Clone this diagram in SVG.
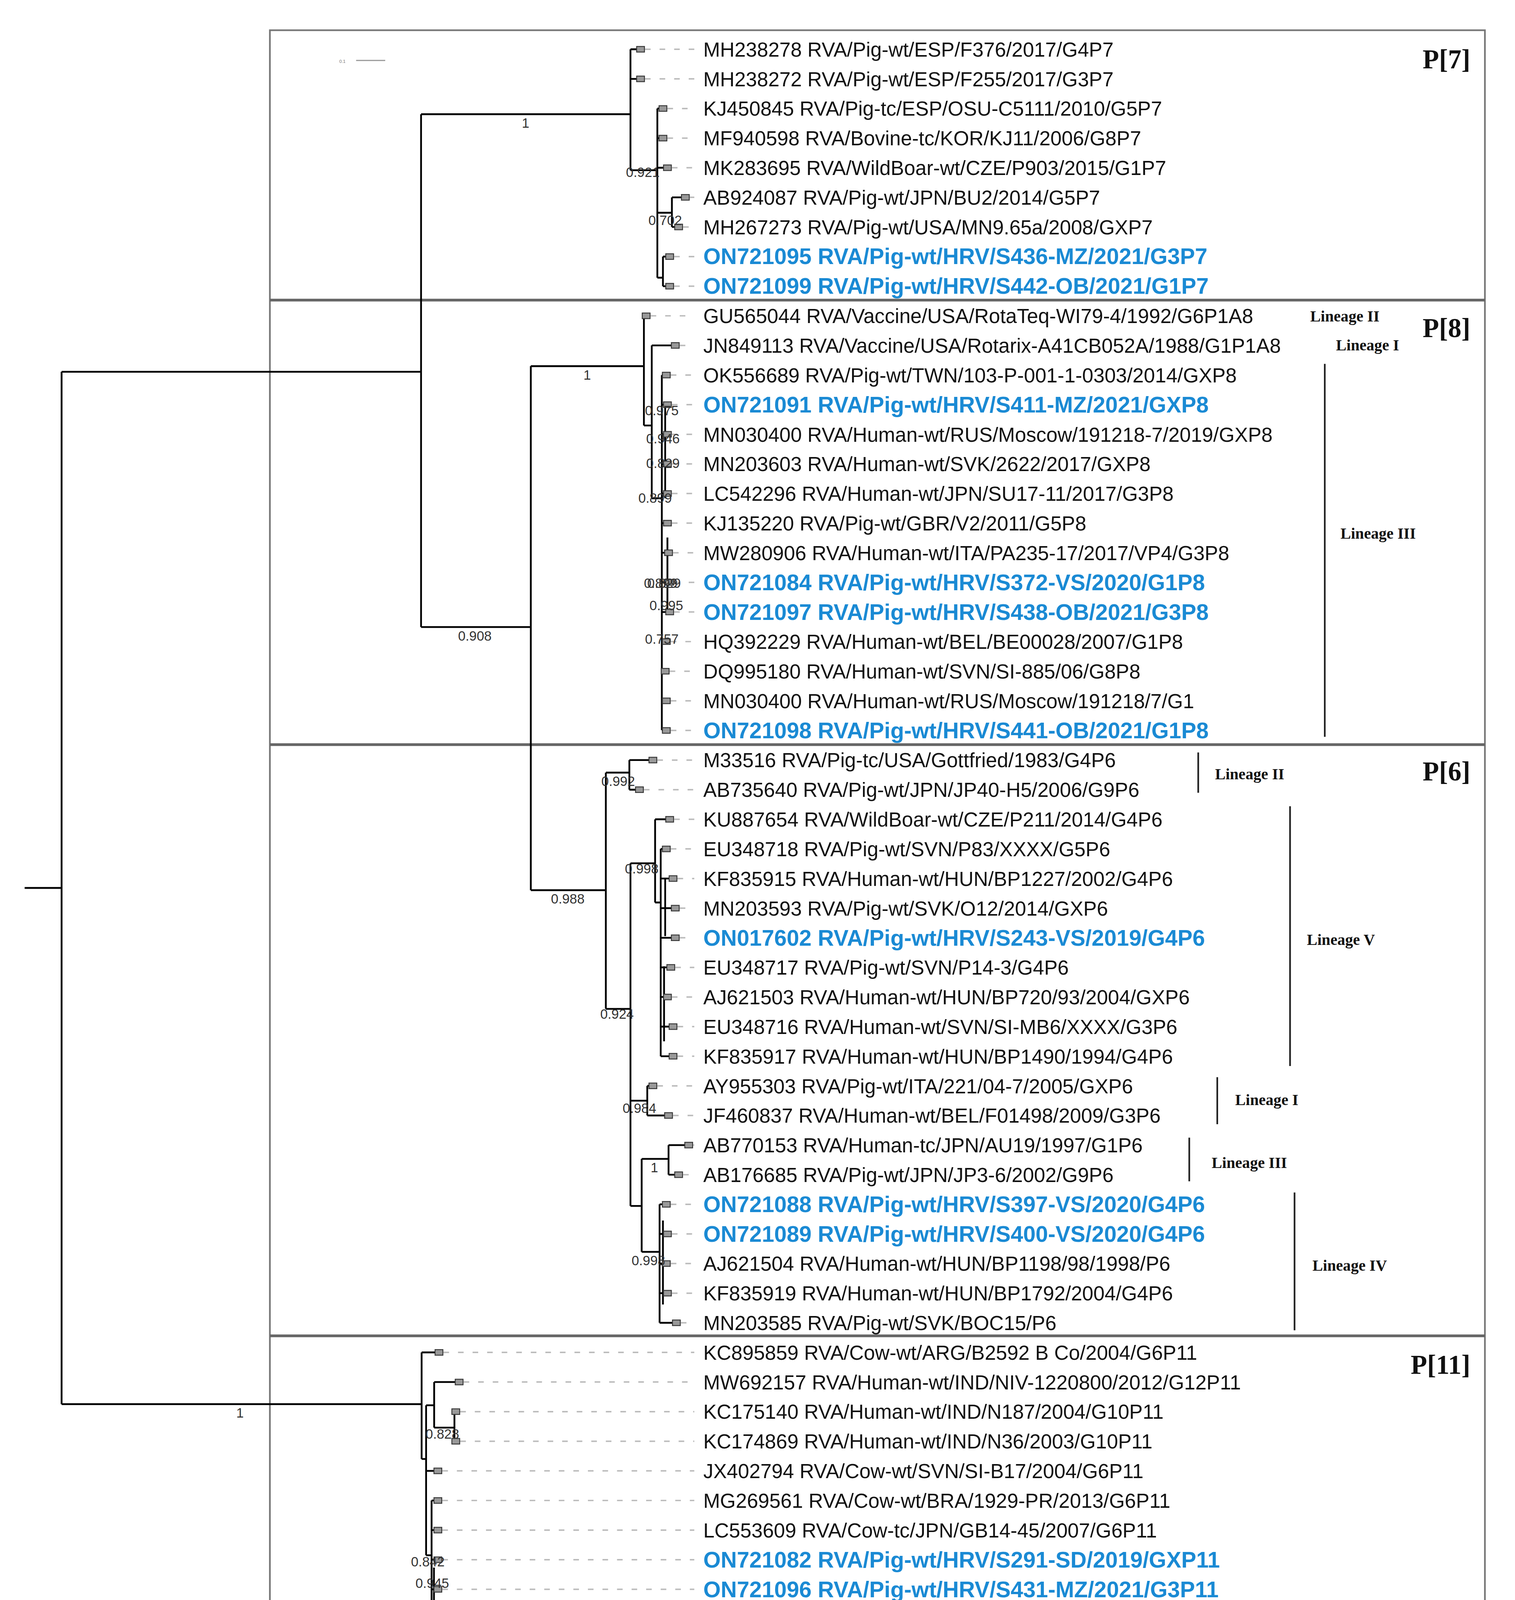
<svg xmlns="http://www.w3.org/2000/svg" width="3878" height="4497" viewBox="0 0 3878 4497">
<style>
.lf{font-family:"Liberation Sans",Arial,sans-serif;font-size:18px;fill:#111}
.bl{font-family:"Liberation Sans",Arial,sans-serif;font-size:20px;font-weight:bold;fill:#1a8ad4}
.sp{font-family:"Liberation Sans",Arial,sans-serif;font-size:12px;fill:#333}
.ln{font-family:"Liberation Serif","Times New Roman",serif;font-size:14px;font-weight:bold;fill:#111}
.gp{font-family:"Liberation Serif","Times New Roman",serif;font-size:24px;font-weight:bold;fill:#111}
.br{fill:none;stroke:#000;stroke-width:1.6}
.ds{fill:none;stroke:#bbb;stroke-width:1.3;stroke-dasharray:5 8}
.bx{fill:none;stroke:#777;stroke-width:1.5}
.sep{stroke:#666;stroke-width:2.5}
.lb{stroke:#222;stroke-width:1.5}
</style>
<defs><rect id="tip" x="-3.5" y="-2.5" width="7" height="5" fill="#999" stroke="#333" stroke-width="0.8"/></defs>
<rect width="3878" height="4497" fill="#fff"/>
<g transform="scale(2.8665)">
<g id="frames">
<rect class="bx" x="241" y="27" width="1085" height="1515"/>
<line class="sep" x1="241" y1="268" x2="1326" y2="268"/>
<line class="sep" x1="241" y1="665" x2="1326" y2="665"/>
<line class="sep" x1="241" y1="1193" x2="1326" y2="1193"/>
<text class="gp" x="1313" y="61" text-anchor="end">P[7]</text>
<text class="gp" x="1313" y="301" text-anchor="end">P[8]</text>
<text class="gp" x="1313" y="697" text-anchor="end">P[6]</text>
<text class="gp" x="1313" y="1227" text-anchor="end">P[11]</text>
<text x="50" y="1526" style="font-family:'Liberation Serif',serif;font-size:40px;font-weight:bold">A</text>
<text x="303" y="56" style="font-family:'Liberation Sans',sans-serif;font-size:4px;fill:#777">0.1</text>
<line x1="318" y1="54" x2="344" y2="54" stroke="#999" stroke-width="1"/>
</g>
<g id="connectors">
<path class="br" d="M22,793H55M55,332V1254M55,332H376M376,102V560M376,102H563M563,44V152M563,44H572M563,70.45H572M563,152H587M587,96.9V248M587,96.9H592M587,123.35H592M587,149.8H596M587,190H600M600,176.25V202.7M600,176.25H612M600,202.7H606M587,248H592M592,229.15V255.6M592,229.15H598M592,255.6H598"/>
<path class="br" d="M376,560H474M474,327V795M474,327H575M575,282V380M575,282H577M575,380H582M582,308.5V445M582,308.5H603M582,445H591M591,335V652M594,361V445M591,334.95H595M591,361.4H596M591,387.85H596M591,414.3H596M591,440.75H596M591,467.2H596M591,493.65H597M591,520.1H598M591,546.55H598M591,573H595M591,599.45H594M591,625.9H595M591,652.35H595M596,480V546"/>
<path class="br" d="M474,795H541M541,690V901M541,690H562M562,678.8V705.25M562,678.8H583M562,705.25H571M541,901H563M563,771V1077M563,771H585M585,731.7V806M585,731.7H598M585,806H590M590,758.15V943.3M590,758.15H595M590,784.6H601M590,811.05H603M590,837.5H603M590,863.95H599M590,890.4H596M590,916.85H601M590,943.3H601M594,784V836M593,863V930M563,983H578M578,969.75V996.2M578,969.75H583M578,996.2H597M563,1077H573M573,1035V1118M573,1035H597M597,1022.65V1049.1M597,1022.65H615M597,1049.1H606M573,1118H589M589,1075.55V1181.35M589,1075.55H595M589,1102H596M589,1128.45H595M589,1154.9H596M589,1181.35H604M592,1090V1165"/>
<path class="br" d="M55,1254H376.5M376.5,1207.8V1303M376.5,1207.8H392M376.5,1303H380.5M380.5,1255V1389M380.5,1255H387.7M387.7,1234.25V1275M387.7,1234.25H410M387.7,1275H405.8M405.8,1260.7V1287.15M405.8,1260.7H407M405.8,1287.15H407M380.5,1313.6H391M380.5,1389H385.4M385.4,1340.05V1525.2M385.4,1340.05H391M385.4,1366.5H391M385.4,1392.95H391M385.4,1419.4H391M385.4,1445.85H391M385.4,1472.3H391M385.4,1498.75H391M385.4,1525.2H391M387.5,1400V1430"/>
<path class="ds" d="M576,44H620M576,70.45H620M596,96.9H620M596,123.35H620M600,149.8H620M616,176.25H620M610,202.7H620M602,229.15H620M602,255.6H620M581,282.05H620M607,308.5H620M599,334.95H620M600,361.4H620M600,387.85H620M600,414.3H620M600,440.75H620M600,467.2H620M601,493.65H620M602,520.1H620M602,546.55H620M599,573H620M598,599.45H620M599,625.9H620M599,652.35H620M587,678.8H620M575,705.25H620M602,731.7H620M599,758.15H620M605,784.6H620M607,811.05H620M607,837.5H620M603,863.95H620M600,890.4H620M605,916.85H620M605,943.3H620M587,969.75H620M601,996.2H620M619,1022.65H620M610,1049.1H620M599,1075.55H620M600,1102H620M599,1128.45H620M600,1154.9H620M608,1181.35H620M396,1207.8H620M414,1234.25H620M411,1260.7H620M411,1287.15H620M395,1313.6H620M395,1340.05H620M395,1366.5H620M395,1392.95H620M395,1419.4H620M396,1445.85H620M395,1472.3H620M395,1498.75H620M395,1525.2H620"/>
<g id="lineage-bars">
<line class="lb" x1="1183" y1="325" x2="1183" y2="658"/>
<line class="lb" x1="1070" y1="672" x2="1070" y2="708"/>
<line class="lb" x1="1152" y1="720" x2="1152" y2="952"/>
<line class="lb" x1="1087" y1="962" x2="1087" y2="1004"/>
<line class="lb" x1="1062" y1="1016" x2="1062" y2="1055"/>
<line class="lb" x1="1156" y1="1065" x2="1156" y2="1188"/>
</g>
</g>
<g id="tips">
<use href="#tip" x="572" y="44"/><use href="#tip" x="572" y="70.45"/><use href="#tip" x="592" y="96.9"/><use href="#tip" x="592" y="123.35"/><use href="#tip" x="596" y="149.8"/><use href="#tip" x="612" y="176.25"/><use href="#tip" x="606" y="202.7"/><use href="#tip" x="598" y="229.15"/><use href="#tip" x="598" y="255.6"/>
<use href="#tip" x="577" y="282.05"/><use href="#tip" x="603" y="308.5"/><use href="#tip" x="595" y="334.95"/><use href="#tip" x="596" y="361.4"/><use href="#tip" x="596" y="387.85"/><use href="#tip" x="596" y="414.3"/><use href="#tip" x="596" y="440.75"/><use href="#tip" x="596" y="467.2"/><use href="#tip" x="597" y="493.65"/><use href="#tip" x="598" y="520.1"/><use href="#tip" x="598" y="546.55"/><use href="#tip" x="595" y="573"/><use href="#tip" x="594" y="599.45"/><use href="#tip" x="595" y="625.9"/><use href="#tip" x="595" y="652.35"/>
<use href="#tip" x="583" y="678.8"/><use href="#tip" x="571" y="705.25"/><use href="#tip" x="598" y="731.7"/><use href="#tip" x="595" y="758.15"/><use href="#tip" x="601" y="784.6"/><use href="#tip" x="603" y="811.05"/><use href="#tip" x="603" y="837.5"/><use href="#tip" x="599" y="863.95"/><use href="#tip" x="596" y="890.4"/><use href="#tip" x="601" y="916.85"/><use href="#tip" x="601" y="943.3"/><use href="#tip" x="583" y="969.75"/><use href="#tip" x="597" y="996.2"/><use href="#tip" x="615" y="1022.65"/><use href="#tip" x="606" y="1049.1"/><use href="#tip" x="595" y="1075.55"/><use href="#tip" x="596" y="1102"/><use href="#tip" x="595" y="1128.45"/><use href="#tip" x="596" y="1154.9"/><use href="#tip" x="604" y="1181.35"/>
<use href="#tip" x="392" y="1207.8"/><use href="#tip" x="410" y="1234.25"/><use href="#tip" x="407" y="1260.7"/><use href="#tip" x="407" y="1287.15"/><use href="#tip" x="391" y="1313.6"/><use href="#tip" x="391" y="1340.05"/><use href="#tip" x="391" y="1366.5"/><use href="#tip" x="391" y="1392.95"/><use href="#tip" x="391" y="1419.4"/><use href="#tip" x="392" y="1445.85"/><use href="#tip" x="391" y="1472.3"/><use href="#tip" x="391" y="1498.75"/><use href="#tip" x="391" y="1525.2"/>
</g>
<g id="support">
<text class="sp" x="466" y="114">1</text><text class="sp" x="559" y="158">0.921</text><text class="sp" x="579" y="201">0.702</text>
<text class="sp" x="211" y="1266">1</text><text class="sp" x="409" y="572">0.908</text><text class="sp" x="521" y="339">1</text>
<text class="sp" x="576" y="371">0.975</text><text class="sp" x="577" y="396">0.946</text><text class="sp" x="577" y="418">0.829</text><text class="sp" x="570" y="449">0.899</text><text class="sp" x="575" y="525">0.899</text><text class="sp" x="578" y="525">0.829</text><text class="sp" x="580" y="545">0.995</text><text class="sp" x="576" y="575">0.757</text>
<text class="sp" x="492" y="807">0.988</text><text class="sp" x="537" y="702">0.992</text><text class="sp" x="536" y="910">0.924</text><text class="sp" x="558" y="780">0.998</text><text class="sp" x="556" y="994">0.984</text><text class="sp" x="581" y="1047">1</text><text class="sp" x="564" y="1130">0.998</text>
<text class="sp" x="380" y="1285">0.828</text><text class="sp" x="367" y="1399">0.842</text><text class="sp" x="371" y="1418">0.945</text>
</g>
<g id="lineages">
<text class="ln" x="1170" y="287">Lineage II</text>
<text class="ln" x="1193" y="313">Lineage I</text>
<text class="ln" x="1197" y="481">Lineage III</text>
<text class="ln" x="1085" y="696">Lineage II</text>
<text class="ln" x="1167" y="844">Lineage V</text>
<text class="ln" x="1103" y="987">Lineage I</text>
<text class="ln" x="1082" y="1043">Lineage III</text>
<text class="ln" x="1172" y="1135">Lineage IV</text>
</g>
<g id="labels">
<text class="lf" x="628" y="50.5">MH238278 RVA/Pig-wt/ESP/F376/2017/G4P7</text>
<text class="lf" x="628" y="77">MH238272 RVA/Pig-wt/ESP/F255/2017/G3P7</text>
<text class="lf" x="628" y="103.4">KJ450845 RVA/Pig-tc/ESP/OSU-C5111/2010/G5P7</text>
<text class="lf" x="628" y="129.9">MF940598 RVA/Bovine-tc/KOR/KJ11/2006/G8P7</text>
<text class="lf" x="628" y="156.3">MK283695 RVA/WildBoar-wt/CZE/P903/2015/G1P7</text>
<text class="lf" x="628" y="182.8">AB924087 RVA/Pig-wt/JPN/BU2/2014/G5P7</text>
<text class="lf" x="628" y="209.2">MH267273 RVA/Pig-wt/USA/MN9.65a/2008/GXP7</text>
<text class="bl" x="628" y="236">ON721095 RVA/Pig-wt/HRV/S436-MZ/2021/G3P7</text>
<text class="bl" x="628" y="262.5">ON721099 RVA/Pig-wt/HRV/S442-OB/2021/G1P7</text>
<text class="lf" x="628" y="288.6">GU565044 RVA/Vaccine/USA/RotaTeq-WI79-4/1992/G6P1A8</text>
<text class="lf" x="628" y="315">JN849113 RVA/Vaccine/USA/Rotarix-A41CB052A/1988/G1P1A8</text>
<text class="lf" x="628" y="341.5">OK556689 RVA/Pig-wt/TWN/103-P-001-1-0303/2014/GXP8</text>
<text class="bl" x="628" y="368.3">ON721091 RVA/Pig-wt/HRV/S411-MZ/2021/GXP8</text>
<text class="lf" x="628" y="394.4">MN030400 RVA/Human-wt/RUS/Moscow/191218-7/2019/GXP8</text>
<text class="lf" x="628" y="420.8">MN203603 RVA/Human-wt/SVK/2622/2017/GXP8</text>
<text class="lf" x="628" y="447.3">LC542296 RVA/Human-wt/JPN/SU17-11/2017/G3P8</text>
<text class="lf" x="628" y="473.7">KJ135220 RVA/Pig-wt/GBR/V2/2011/G5P8</text>
<text class="lf" x="628" y="500.2">MW280906 RVA/Human-wt/ITA/PA235-17/2017/VP4/G3P8</text>
<text class="bl" x="628" y="527">ON721084 RVA/Pig-wt/HRV/S372-VS/2020/G1P8</text>
<text class="bl" x="628" y="553.5">ON721097 RVA/Pig-wt/HRV/S438-OB/2021/G3P8</text>
<text class="lf" x="628" y="579.5">HQ392229 RVA/Human-wt/BEL/BE00028/2007/G1P8</text>
<text class="lf" x="628" y="606">DQ995180 RVA/Human-wt/SVN/SI-885/06/G8P8</text>
<text class="lf" x="628" y="632.4">MN030400 RVA/Human-wt/RUS/Moscow/191218/7/G1</text>
<text class="bl" x="628" y="659.3">ON721098 RVA/Pig-wt/HRV/S441-OB/2021/G1P8</text>
<text class="lf" x="628" y="685.3">M33516 RVA/Pig-tc/USA/Gottfried/1983/G4P6</text>
<text class="lf" x="628" y="711.8">AB735640 RVA/Pig-wt/JPN/JP40-H5/2006/G9P6</text>
<text class="lf" x="628" y="738.2">KU887654 RVA/WildBoar-wt/CZE/P211/2014/G4P6</text>
<text class="lf" x="628" y="764.7">EU348718 RVA/Pig-wt/SVN/P83/XXXX/G5P6</text>
<text class="lf" x="628" y="791.1">KF835915 RVA/Human-wt/HUN/BP1227/2002/G4P6</text>
<text class="lf" x="628" y="817.6">MN203593 RVA/Pig-wt/SVK/O12/2014/GXP6</text>
<text class="bl" x="628" y="844.5">ON017602 RVA/Pig-wt/HRV/S243-VS/2019/G4P6</text>
<text class="lf" x="628" y="870.5">EU348717 RVA/Pig-wt/SVN/P14-3/G4P6</text>
<text class="lf" x="628" y="896.9">AJ621503 RVA/Human-wt/HUN/BP720/93/2004/GXP6</text>
<text class="lf" x="628" y="923.4">EU348716 RVA/Human-wt/SVN/SI-MB6/XXXX/G3P6</text>
<text class="lf" x="628" y="949.8">KF835917 RVA/Human-wt/HUN/BP1490/1994/G4P6</text>
<text class="lf" x="628" y="976.3">AY955303 RVA/Pig-wt/ITA/221/04-7/2005/GXP6</text>
<text class="lf" x="628" y="1002.7">JF460837 RVA/Human-wt/BEL/F01498/2009/G3P6</text>
<text class="lf" x="628" y="1029.2">AB770153 RVA/Human-tc/JPN/AU19/1997/G1P6</text>
<text class="lf" x="628" y="1055.6">AB176685 RVA/Pig-wt/JPN/JP3-6/2002/G9P6</text>
<text class="bl" x="628" y="1082.5">ON721088 RVA/Pig-wt/HRV/S397-VS/2020/G4P6</text>
<text class="bl" x="628" y="1109">ON721089 RVA/Pig-wt/HRV/S400-VS/2020/G4P6</text>
<text class="lf" x="628" y="1135">AJ621504 RVA/Human-wt/HUN/BP1198/98/1998/P6</text>
<text class="lf" x="628" y="1161.4">KF835919 RVA/Human-wt/HUN/BP1792/2004/G4P6</text>
<text class="lf" x="628" y="1187.9">MN203585 RVA/Pig-wt/SVK/BOC15/P6</text>
<text class="lf" x="628" y="1214.3">KC895859 RVA/Cow-wt/ARG/B2592 B Co/2004/G6P11</text>
<text class="lf" x="628" y="1240.8">MW692157 RVA/Human-wt/IND/NIV-1220800/2012/G12P11</text>
<text class="lf" x="628" y="1267.2">KC175140 RVA/Human-wt/IND/N187/2004/G10P11</text>
<text class="lf" x="628" y="1293.7">KC174869 RVA/Human-wt/IND/N36/2003/G10P11</text>
<text class="lf" x="628" y="1320.1">JX402794 RVA/Cow-wt/SVN/SI-B17/2004/G6P11</text>
<text class="lf" x="628" y="1346.6">MG269561 RVA/Cow-wt/BRA/1929-PR/2013/G6P11</text>
<text class="lf" x="628" y="1373">LC553609 RVA/Cow-tc/JPN/GB14-45/2007/G6P11</text>
<text class="bl" x="628" y="1400">ON721082 RVA/Pig-wt/HRV/S291-SD/2019/GXP11</text>
<text class="bl" x="628" y="1426.4">ON721096 RVA/Pig-wt/HRV/S431-MZ/2021/G3P11</text>
<text class="lf" x="628" y="1452.4">KC488888 RVA/Rabbit-tc/NLD/K1130027/2011/G6P11</text>
<text class="lf" x="628" y="1478.8">JX090208 RVA/Cow-wt/TUR/Aksaray/2005/G6P11</text>
<text class="lf" x="628" y="1505.3">JX094031 RVA/Human-wt/SVN/SI-R56/07/2007/G6P11</text>
<text class="lf" x="628" y="1531.7">MW727441 RVA/Fox-wt/HRV/L338-PG/2019/GXP11</text>
</g>
</g>
</svg>
